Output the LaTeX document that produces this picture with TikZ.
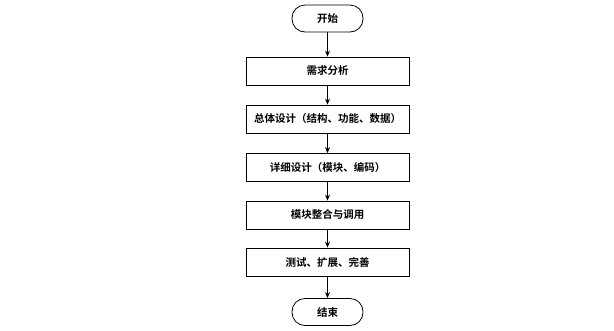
\documentclass[tikz,border=0pt]{standalone}
\usepackage{fontspec}
\newfontfamily\cjk[BoldFont={Noto Sans CJK SC Bold}]{Noto Sans CJK SC}
\usetikzlibrary{arrows.meta}
\begin{document}
\begin{tikzpicture}[x=1pt,y=-1pt,
  font=\cjk\bfseries\fontsize{10.5}{12}\selectfont,
  stepbox/.style={draw,line width=0.8pt,minimum width=163pt,minimum height=28pt,inner sep=0pt},
  term/.style={draw,line width=0.8pt,rounded corners=13pt,minimum width=71pt,minimum height=27pt,inner sep=0pt},
  conn/.style={line width=0.8pt,-{Stealth[length=6pt,width=5pt]}}]
\useasboundingbox (0,0) rectangle (614,330);
\node[term] (s) at (327.5,18.5) {开始};
\node[stepbox] (a) at (327.5,71) {需求分析};
\node[stepbox] (b) at (327.5,119) {总体设计（结构、功能、数据）};
\node[stepbox] (c) at (327.5,167.5) {详细设计（模块、编码）};
\node[stepbox] (d) at (327.5,215) {模块整合与调用};
\node[stepbox] (e) at (327.5,262) {测试、扩展、完善};
\node[term] (t) at (327.5,312) {结束};
\draw[conn] (s) -- (a);
\draw[conn] (a) -- (b);
\draw[conn] (b) -- (c);
\draw[conn] (c) -- (d);
\draw[conn] (d) -- (e);
\draw[conn] (e) -- (t);
\end{tikzpicture}
\end{document}
